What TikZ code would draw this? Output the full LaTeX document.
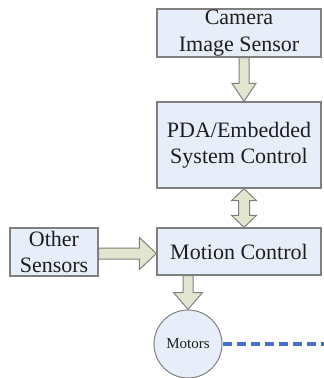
\documentclass[tikz,border=0pt]{standalone}
\usepackage{fontspec}
\setmainfont{Liberation Serif}
\usetikzlibrary{calc}
\definecolor{boxfill}{HTML}{E8EEF9}
\definecolor{boxline}{HTML}{808080}
\definecolor{arrfill}{HTML}{E2E6D0}
\definecolor{dashblue}{HTML}{4472C4}
\definecolor{txt}{HTML}{1E1E1E}
\begin{document}
\begin{tikzpicture}[x=1pt,y=-1pt,
  blockbox/.style={draw=boxline, fill=boxfill, line width=1.3pt, inner sep=0pt,
    align=center, text=txt, font=\fontsize{22}{26.5}\selectfont},
  blockarrow/.style={draw=boxline, fill=arrfill, line width=1pt, line join=miter},
  motorcircle/.style={circle, draw=boxline, fill=boxfill, line width=1pt, inner sep=0pt,
    minimum size=68pt, text=txt, font=\fontsize{15}{18}\selectfont},
  linkline/.style={draw=dashblue, line width=4.5pt, dash pattern=on 9pt off 5pt}
]
\useasboundingbox (0,0) rectangle (324,378);

\node[blockbox, minimum width=164pt, minimum height=48pt] (cam) at (239,33) {Camera\\Image Sensor};
\node[blockbox, minimum width=164pt, minimum height=86pt] (pda) at (239,145) {PDA/Embedded\\System Control};
\node[blockbox, minimum width=164pt, minimum height=47pt] (mot) at (239,251.5) {Motion Control};
\node[blockbox, minimum width=88pt, minimum height=48pt] (oth) at (54,252) {Other\\Sensors};
\node[motorcircle] (mtr) at (188,344) {Motors};
\coordinate (dend) at (324,344);

% arrow camera -> PDA
\coordinate (a1s) at ($(cam.south)+(5,0)$);
\coordinate (a1e) at ($(pda.north)+(5,0)$);
\draw[blockarrow] ($(a1s)+(-5,0)$) -- ($(a1s)+(5,0)$) -- ($(a1e)+(5,-18)$) -- ($(a1e)+(12,-18)$)
  -- (a1e) -- ($(a1e)+(-12,-18)$) -- ($(a1e)+(-5,-18)$) -- cycle;

% double arrow PDA <-> Motion
\coordinate (a2s) at ($(pda.south)+(5,0)$);
\coordinate (a2e) at ($(mot.north)+(5,0)$);
\draw[blockarrow] (a2s) -- ($(a2s)+(12.5,12)$) -- ($(a2s)+(5.5,12)$) -- ($(a2e)+(5.5,-12)$)
  -- ($(a2e)+(12.5,-12)$) -- (a2e) -- ($(a2e)+(-12.5,-12)$) -- ($(a2e)+(-5.5,-12)$)
  -- ($(a2s)+(-5.5,12)$) -- ($(a2s)+(-12.5,12)$) -- cycle;

% arrow Other -> Motion
\coordinate (a3s) at ($(oth.east)+(0,1.5)$);
\coordinate (a3e) at ($(mot.west)+(0,2)$);
\draw[blockarrow] ($(a3s)+(0,-5.5)$) -- ($(a3e)+(-17,-5.5)$) -- ($(a3e)+(-17,-16)$) -- (a3e)
  -- ($(a3e)+(-17,16)$) -- ($(a3e)+(-17,5.5)$) -- ($(a3s)+(0,5.5)$) -- cycle;

% arrow Motion -> Motors
\coordinate (a4s) at (mtr.north |- mot.south);
\coordinate (a4e) at (mtr.north);
\draw[blockarrow] ($(a4s)+(-5,0)$) -- ($(a4s)+(5,0)$) -- ($(a4e)+(5,-17)$) -- ($(a4e)+(14.5,-17)$)
  -- (a4e) -- ($(a4e)+(-14.5,-17)$) -- ($(a4e)+(-5,-17)$) -- cycle;

% dashed link
\draw[linkline] (mtr.east) -- (dend);
\end{tikzpicture}
\end{document}
